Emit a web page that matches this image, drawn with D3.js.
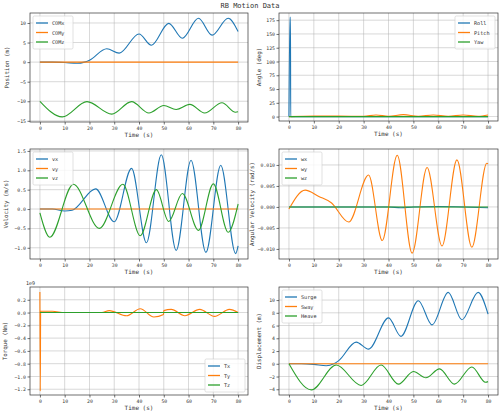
<!DOCTYPE html>
<html><head><meta charset="utf-8">
<script src="https://cdn.jsdelivr.net/npm/d3@7"></script>
<style>
body{margin:0;background:#fff}
text{font-family:"DejaVu Sans Mono",monospace;fill:#333}
.grid line{stroke:#b0b0b0;stroke-width:0.8;opacity:0.6}
.axis path,.axis line{stroke:#333;stroke-width:0.7}
</style></head>
<body><svg id="c" width="500" height="416"></svg>
<script>
// --- data, [time, value] pairs
var comX = [[0,0],[5,0],[10,-0.1],[15,-0.3],[18,0],[20,0.5],[27,3.4],[32,2.3],[40,7.2],[45,4.3],[52,9.9],[57.5,6.1],[64,11.2],[69.5,6.9],[76,11.2],[80,7.8]];
var comY = [[0,0],[80,0]];
var comZ = [[0,-10],[9,-14],[19,-10.1],[29,-13.3],[37,-10.1],[44,-13],[50,-11.1],[55,-12.1],[60.5,-10.8],[66.5,-13],[73.5,-10.4],[79,-12.8],[80,-12.7]];

var roll = [[0,0],[0.4,180],[0.6,180],[0.7,0],[80,0]];
var pitch = [[0,0],[10,1],[20,1],[30,0.5],[35,3],[40,0.5],[46,3.5],[52,0.5],[58,3],[64,0.5],[70,3],[76,0.5],[80,3]];
var yaw = [[0,0],[80,0]];

var vx = [[0,0],[5,0],[10,-0.05],[13,-0.03],[22.5,0.52],[30,-0.33],[37,1.05],[43,-0.87],[49,1.4],[55,-1.07],[61,1.26],[67,-1.12],[73,1.13],[79,-1.15],[80,-0.95]];
var vy = [[0,0],[80,0]];
var vz = [[0,-0.1],[4,-0.73],[13.5,0.64],[24,-0.5],[33.5,0.64],[40.5,-0.69],[47,0.5],[52,-0.32],[57.5,0.4],[64,-0.55],[70,0.65],[76,-0.6],[80,0.13]];

var wx = [[0,0],[40,0],[45,-0.0002],[50,0],[60,0.0001],[70,0],[80,-0.0002]];
var wy = [[0,-0.0005],[6.5,0.004],[12,0.0025],[17,0.001],[24,-0.0036],[32,0.0076],[37.5,-0.008],[43.5,0.0123],[49.5,-0.011],[55.5,0.0094],[61.5,-0.0093],[67.5,0.0112],[73.5,-0.0096],[79.5,0.0104],[80,0.0103]];
var wz = [[0,0],[80,0]];

var tx = [[0,0],[80,0]];
var ty = [[0,0.32],[0.15,-1.23],[0.3,0.02],[5,0.02],[10,0],[25,0],[28,0.03],[35,-0.05],[40.5,0.06],[46,-0.07],[49.9,-0.03],[50,0.03],[53,0.05],[58.5,-0.05],[64.5,0.05],[70.5,-0.06],[76.5,0.05],[80,0]];
var tz = [[0,0],[80,0]];

var surge = comX;
var sway = [[0,0],[80,0]];
var heave = [[0,0],[9,-4.1],[19,-0.2],[29,-3.4],[37,-0.2],[44,-3.2],[50,-1.2],[55,-2.2],[60.5,-0.8],[66.5,-3.2],[73.5,-0.5],[79,-2.9],[80,-2.8]];

var xTicks = [0,10,20,30,40,50,60,70,80];
var colors = ["#1f77b4","#ff7f0e","#2ca02c"];

var panels = [
  {x0:30,x1:248,y0:13,y1:122,yd:[-15.3,12.55],yt:[-15,-10,-5,0,5,10],fmt:d3.format("d"),label:"Position (m)",lx:-21,names:["COMx","COMy","COMz"],series:[comX,comY,comZ],leg:"ul"},
  {x0:279,x1:498,y0:13,y1:121,yd:[-8,188],yt:[0,25,50,75,100,125,150,175],fmt:d3.format("d"),label:"Angle (deg)",lx:-18,names:["Roll","Pitch","Yaw"],series:[roll,pitch,yaw],leg:"ur"},
  {x0:30,x1:248,y0:149,y1:259,yd:[-1.29,1.55],yt:[-1,-0.5,0,0.5,1,1.5],fmt:d3.format(".1f"),label:"Velocity (m/s)",lx:-22,names:["vx","vy","vz"],series:[vx,vy,vz],leg:"ul"},
  {x0:279,x1:498,y0:149,y1:259,yd:[-0.0124,0.0138],yt:[-0.01,-0.005,0,0.005,0.01],fmt:d3.format(".3f"),label:"Angular Velocity (rad/s)",lx:-25,names:["wx","wy","wz"],series:[wx,wy,wz],leg:"ul"},
  {x0:30,x1:248,y0:287,y1:395,yd:[-1.29,0.4],yt:[-1.2,-1,-0.8,-0.6,-0.4,-0.2,0,0.2],fmt:d3.format(".1f"),label:"Torque (Nm)",lx:-23,names:["Tx","Ty","Tz"],series:[tx,ty,tz],leg:"lr",exp:"1e9"},
  {x0:279,x1:498,y0:287,y1:395,yd:[-4.9,12.05],yt:[-4,-2,0,2,4,6,8,10],fmt:d3.format("d"),label:"Displacement (m)",lx:-18,names:["Surge","Sway","Heave"],series:[surge,sway,heave],leg:"ul"}
];

var svg = d3.select("#c");
svg.append("text").attr("x",250).attr("y",8).attr("text-anchor","middle").attr("font-size",7).text("RB Motion Data");

panels.forEach(function(p){
  var w = p.x1 - p.x0, h = p.y1 - p.y0;
  var x = d3.scaleLinear().domain([-4,84]).range([0,w]);
  var y = d3.scaleLinear().domain(p.yd).range([h,0]);
  var g = svg.append("g").attr("transform","translate("+p.x0+","+p.y0+")");

  g.append("g").attr("class","grid").selectAll("line").data(xTicks).enter().append("line")
    .attr("x1",x).attr("x2",x).attr("y1",0).attr("y2",h);
  g.append("g").attr("class","grid").selectAll("line").data(p.yt).enter().append("line")
    .attr("y1",y).attr("y2",y).attr("x1",0).attr("x2",w);

  var line = d3.line().x(function(d){return x(d[0]);}).y(function(d){return y(d[1]);}).curve(d3.curveMonotoneX);
  p.series.forEach(function(s,i){
    g.append("path").datum(s).attr("d",line).attr("fill","none")
      .attr("stroke",colors[i]).attr("stroke-width",1.1);
  });

  g.append("rect").attr("width",w).attr("height",h).attr("fill","none").attr("stroke","#333").attr("stroke-width",0.7);

  var ax = g.append("g").attr("class","axis").attr("transform","translate(0,"+h+")")
    .call(d3.axisBottom(x).tickValues(xTicks).tickSize(2.5).tickPadding(2));
  var ay = g.append("g").attr("class","axis")
    .call(d3.axisLeft(y).tickValues(p.yt).tickFormat(p.fmt).tickSize(2.5).tickPadding(1.5));
  [ax,ay].forEach(function(a){ a.select(".domain").remove(); a.selectAll("text").attr("font-size",4.8).attr("fill","#444").style("font-family","DejaVu Sans Mono"); });

  g.append("text").attr("x",w/2).attr("y",h+15).attr("text-anchor","middle").attr("font-size",6).text("Time (s)");
  g.append("text").attr("transform","translate("+p.lx+","+(h/2)+") rotate(-90)").attr("text-anchor","middle").attr("font-size",5.8).text(p.label);
  if (p.exp) g.append("text").attr("x",-4).attr("y",-2).attr("font-size",5).text(p.exp);

  // legend
  var lw = 40, lh = 33;
  var lgx = p.leg === "ul" ? 3 : w - lw - 3;
  var lgy = p.leg === "lr" ? h - lh - 3 : 3;
  var lg = g.append("g").attr("transform","translate("+lgx+","+lgy+")");
  lg.append("rect").attr("width",lw).attr("height",lh).attr("rx",1.5).attr("fill","#fff").attr("fill-opacity",0.8).attr("stroke","#ccc").attr("stroke-width",0.6);
  p.names.forEach(function(n,i){
    var yy = 7 + i*9.5;
    lg.append("line").attr("x1",3).attr("x2",15).attr("y1",yy).attr("y2",yy).attr("stroke",colors[i]).attr("stroke-width",1.3);
    lg.append("text").attr("x",19).attr("y",yy+2).attr("font-size",5.2).text(n);
  });
});
</script></body></html>
